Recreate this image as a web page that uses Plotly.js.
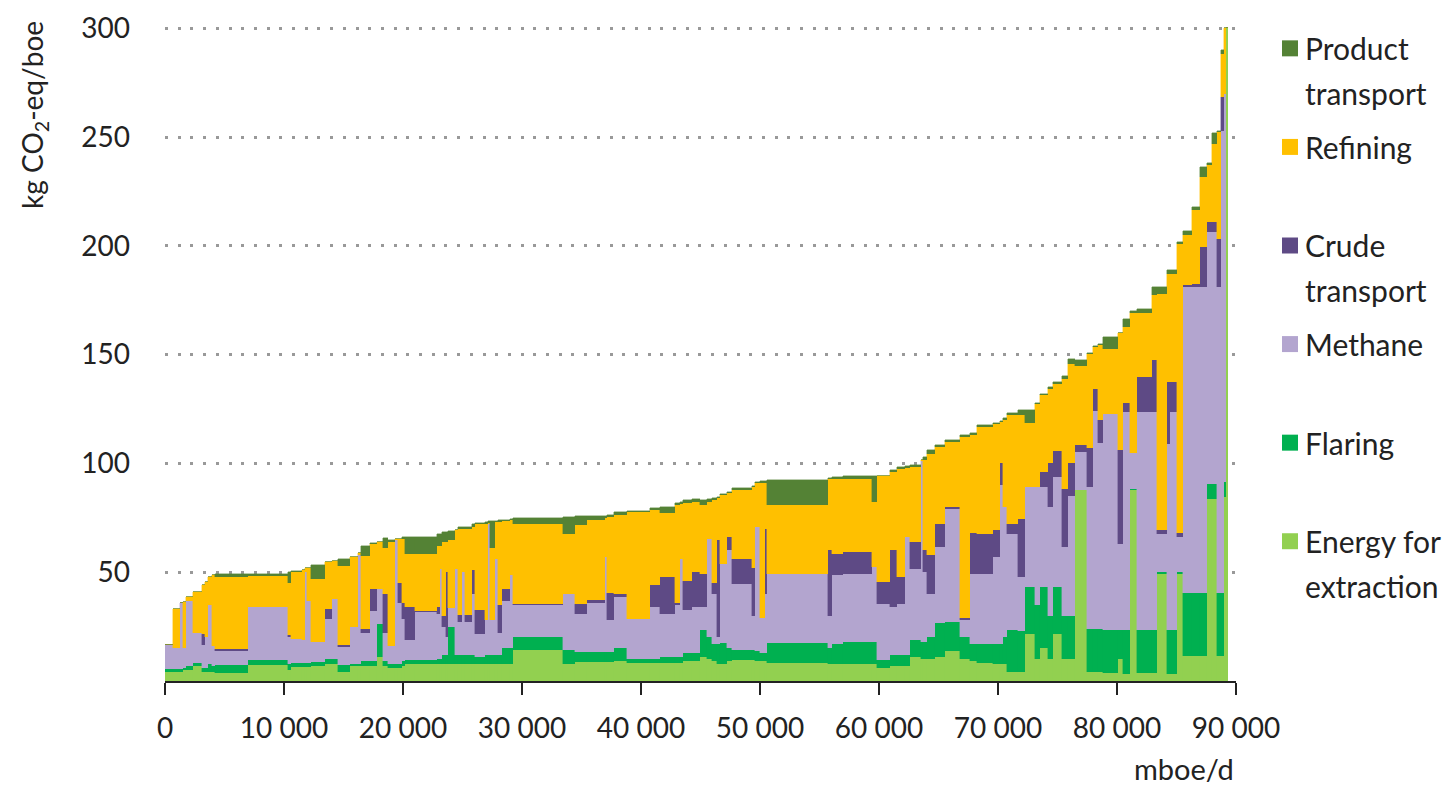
<!DOCTYPE html>
<html>
<head>
<meta charset="utf-8">
<script src="https://cdn.plot.ly/plotly-3.0.1.min.js"></script>
<style>
html,body{margin:0;padding:0;background:#fff;}
#chart{width:1450px;height:788px;}
</style>
</head>
<body>
<div id="chart"></div>
<script>
// Width of each producing block (mboe/d), left to right along the supply curve
const widths = [
  670,590,250,250,590,760,250,250,340,250,
  2770,3360,250,920,250,170,340,1180,590,500,
  1010,670,250,760,590,500,420,590,250,340,
  250,840,1850,250,170,340,170,590,250,340,
  250,590,250,840,250,170,420,250,340,670,
  250,4200,1010,1010,1510,170,590,1090,1930,840,
  1260,420,250,760,670,590,420,420,250,590,
  420,1680,250,420,420,170,5130,340,920,2440,
  420,1090,590,670,420,920,170,340,670,840,
  1260,840,590,1340,590,250,340,920,590,840,
  420,670,420,760,500,590,1010,500,420,420,
  1260,420,590,590,1260,420,840,250,590,500,
  760,670,590,420,420,340,250,170,170
];
// kg CO2-eq/boe per component
const energy = [
  4,4,4,5,5,7,4,4,4,4,
  3.5,7.3,5,6.5,6.5,6.5,6.5,7,8,8,
  4.3,7,7,7,7,11,7,6,6,6,
  7,8,8,8,8,8,8,8,8,8,
  8,8,8,8,8,8,8,8,8,8,
  8,14.2,8,8.8,8.8,8.8,8.8,9,8.5,8.5,
  8.5,8.5,8.5,9,9,11,10,9,8,8,
  9,9.6,9.6,9,9,9,8.4,8,8,8,
  8,6,7,7,7,11,10,10,10,11,
  14,10,9,8.3,8,8,8,4.2,4,21.8,
  10,15,10,21.8,10,10,87.7,4,4,4,
  3.5,10,3,87.7,3.5,3.5,49.2,3,3,49.2,
  11.7,11.7,11.7,83.7,83.7,11.7,11.7,84.6,300
];
const flaring = [
  1.5,1.5,1.5,1,2,1.5,2,2,4,3,
  3.8,2.3,3,2,2,2,2,1.6,1.9,1.9,
  3,1,1,2,2,15.4,2,2,2,2,
  2,1.5,1.5,2,2,4,4,16.9,4,4,
  4,4,4,3,4,4,4,4,4,7,
  7,6.1,6.2,4.6,4.6,4.6,4.6,6,1.5,1.5,
  2.5,2.5,2.5,4,4,12.3,10,8,9,9.4,
  6,4.6,4.6,5,4,4,9,7,9.2,10,
  10,3.6,5,5,5,8,8,8,10,15.5,
  13.2,10,8,8.9,9,9,12,19.1,19,21.5,
  25,28.3,20,21.5,20,20,0,20,20,20,
  20,13.5,20.5,0.6,20,20,0.8,20.5,20.5,0.8,
  28.6,28.6,28.6,7,7,28.6,28.6,6.9,0
];
const methane = [
  11,9.5,30.5,9,30,13.5,10.5,14,27,9,
  6.7,24.2,12,11,10.5,41.5,28.5,9.4,18.8,27.6,
  8.4,17,50,13,23,16.1,13,8,57,28,
  19.7,9.5,22,21,41.5,13,8,8.6,39.5,15.2,
  38,15.2,28,10.8,16,60,16,44,10,22,
  33.5,14.5,26,17.6,22.6,43.6,14.6,23.6,18.7,24.2,
  20,24,45,19.5,21,10.8,45.5,23,3,36.6,
  45,30.5,15.8,56.8,16,27,31.6,15,31.4,31.4,
  34.4,26,22,23.6,54,32.7,83,32,20,35.1,
  52,8,32.4,32.2,40,73,60,44.3,25,45.9,
  54.2,45.9,50,50.7,31.6,55,17.6,65,100,85.3,
  99.4,39.5,100.2,16.4,100.2,100.2,17.5,85.5,100.2,16,
  140.7,140.7,140.7,115.7,115.7,140.7,212.7,178.5,0
];
const crude = [
  0,0,0,0,0,0,5.3,0,0,0,
  0.5,0.2,1,0,0,0,0,0,4.6,0,
  0.8,0,0,2,10.5,0,18,0,0,9,
  7.3,15,0.5,3,0,5,30,0,0,3,
  0,3,11,10.7,0,0,0,0,13,5.5,
  0,0.7,0,4.6,1.1,0,12.6,1.4,0,9.8,
  16.9,1,0,13.5,16,15.3,0,5,44.7,0,
  6.2,11.5,22,0,0,30,0.4,30,9.7,10,
  0,9.9,26,12.4,0,12.2,0,10,18,10.7,
  0.8,1,18.6,18.4,12.5,10,0,4.6,26.5,0,
  0,7.1,20,11.5,26.8,15,3,18,10,10.6,
  0,43,3.9,0,16.1,23.7,2,28.5,13.8,2,
  1,1.5,18.5,4.6,4.6,22,15.4,0,0
];
const refining = [
  0,18,0,21.5,1.5,19,22.2,25.5,12.6,32.5,
  33.5,14.2,24,30.5,32.2,2,15,29,21.3,17.5,
  36.5,32,1,33.6,20.5,21.5,21.2,48,0.5,20.5,
  29.5,24.6,26.6,28,10.5,34,14,31.5,17.8,39.8,
  20,39.8,20,39.8,44,0.5,33.3,17.2,38.2,31,
  25.5,36.8,27.3,36,36.8,18,34.9,36.5,49,34.5,
  29.1,44.8,25.2,35.6,32.3,31.4,16.8,38.1,19.3,31.4,
  20.3,31.5,37,20,61.8,20.8,31.4,33,34.7,33.6,
  29.8,48.7,36,49.6,32,34.5,0.5,41.5,46.5,35.3,
  29.9,83,45,49,48.7,19,40,50.1,47.8,29.2,
  38.3,35,34.4,31.2,50.6,45.9,36.7,43.5,19.5,34.4,
  29.9,53.8,35.2,64.3,29.2,29.9,108.5,49.8,49.8,133,
  22.9,33.9,32.2,26,36,49.4,20,30,0
];
const product = [
  0,0,0,0,0,0,0,0,0,0,
  1.2,1.1,5,0.5,0,0,0,6.5,0,0,
  3,0,0,4.4,0.5,0,4.5,1,0,0,
  0.5,7.6,7.6,5.7,5.7,4.5,4.5,4,0,1,
  1,1,1,0.5,1,1.1,12.3,0.4,0.8,0.5,
  0.5,2.7,7.7,4.1,1.8,1,1,1,0.3,0.8,
  3,1.2,1.3,1.4,1.2,2.3,1.2,0.9,0.5,0.6,
  0.5,0.8,0.5,0.8,1.2,1.2,11.8,0.5,0.8,1.2,
  12,0,1,0.9,1,1.1,0,1.5,1.5,0.9,
  0.7,1,1,0.7,0.3,0.5,1,0.7,2.2,6.1,
  0.5,0.7,0.6,0.8,1,2.1,2.4,0.5,0.5,0.7,
  5.3,0.2,3.8,1,2.2,3.8,3.1,1.5,1.5,0.8,
  2,1.5,4.6,1,5,0.6,1.6,0,0
];

const seriesNames = ['Energy for extraction','Flaring','Methane','Crude transport','Refining','Product transport'];
const seriesColors = ['#92D050','#00B050','#B3A5CF','#5E4A85','#FFC000','#548235'];
const seriesValues = [energy, flaring, methane, crude, refining, product];

const xTickVals = [0,10000,20000,30000,40000,50000,60000,70000,80000,90000];
const xTickText = ['0','10 000','20 000','30 000','40 000','50 000','60 000','70 000','80 000','90 000'];
const yTickVals = [50,100,150,200,250,300];

// legend entries, top to bottom: [lines, color]
const legendItems = [
  [['Product','transport'], '#548235'],
  [['Refining'], '#FFC000'],
  [['Crude','transport'], '#5E4A85'],
  [['Methane'], '#B3A5CF'],
  [['Flaring'], '#00B050'],
  [['Energy for','extraction'], '#92D050']
];

// bar centers from cumulative widths
const centers = [];
let acc = 0;
for (const w of widths) { centers.push(acc + w/2); acc += w; }

const traces = seriesValues.map((vals, i) => ({
  type: 'bar',
  name: seriesNames[i],
  x: centers,
  y: vals,
  width: widths,
  marker: {color: seriesColors[i], line: {color: seriesColors[i], width: 0.4}},
  showlegend: false,
  hoverinfo: 'skip'
}));

// geometry of plot area (pixels)
const L = 165.4, W = 1070.6, B = 680.8, T = 23.65, H = B - T;
const pxX = x => (x - L) / W;
const pxY = y => (B - y) / H;

const font = 'Lato, "Open Sans", sans-serif';
const txtColor = '#222222';

const annotations = [];
const shapes = [];
const legendTop = 48, legendStep = 98.6, lineGap = 45;
legendItems.forEach((item, i) => {
  const cy = legendTop + i * legendStep;
  shapes.push({type:'rect', xref:'paper', yref:'paper',
    x0: pxX(1282), x1: pxX(1298), y0: pxY(cy + 8), y1: pxY(cy - 8),
    fillcolor: item[1], line: {width: 0}});
  item[0].forEach((line, j) => {
    annotations.push({xref:'paper', yref:'paper', x: pxX(1303), y: pxY(cy + j*lineGap),
      xanchor:'left', yanchor:'middle', showarrow:false, text: line,
      font: {family: font, size: 30, color: txtColor}});
  });
});
annotations.push({xref:'paper', yref:'paper', x: pxX(35), y: pxY(115), textangle: -90,
  xanchor:'center', yanchor:'middle', showarrow:false,
  text: 'kg CO<sub>2</sub>-eq/boe', font: {family: font, size: 28, color: txtColor}});
annotations.push({xref:'paper', yref:'paper', x: pxX(1236), y: pxY(768),
  xanchor:'right', yanchor:'middle', showarrow:false,
  text: 'mboe/d', font: {family: font, size: 29, color: txtColor}});

const layout = {
  width: 1450, height: 788,
  margin: {l: L, r: 1450 - L - W, t: T, b: 788 - B, pad: 0},
  paper_bgcolor: '#ffffff', plot_bgcolor: '#ffffff',
  barmode: 'stack', bargap: 0,
  font: {family: font, size: 28, color: txtColor},
  xaxis: {
    range: [0, 90000], tickmode: 'array', tickvals: xTickVals, ticktext: xTickText,
    showgrid: false, zeroline: false, showline: true, linecolor: '#222', linewidth: 1.5,
    ticks: 'outside', ticklen: 12, tickwidth: 1.5, tickcolor: '#222',
    ticklabelstandoff: 10, tickfont: {family: font, size: 28, color: txtColor}, fixedrange: true
  },
  yaxis: {
    range: [0, 302], tickmode: 'array', tickvals: yTickVals,
    showgrid: true, gridcolor: '#999999', gridwidth: 3, griddash: '3px,9.7px',
    zeroline: false, showline: false, ticks: '',
    ticklabelstandoff: 34, tickfont: {family: font, size: 28, color: txtColor}, fixedrange: true
  },
  annotations: annotations,
  shapes: shapes
};

Plotly.newPlot('chart', traces, layout, {displayModeBar: false, responsive: false});
</script>
</body>
</html>
